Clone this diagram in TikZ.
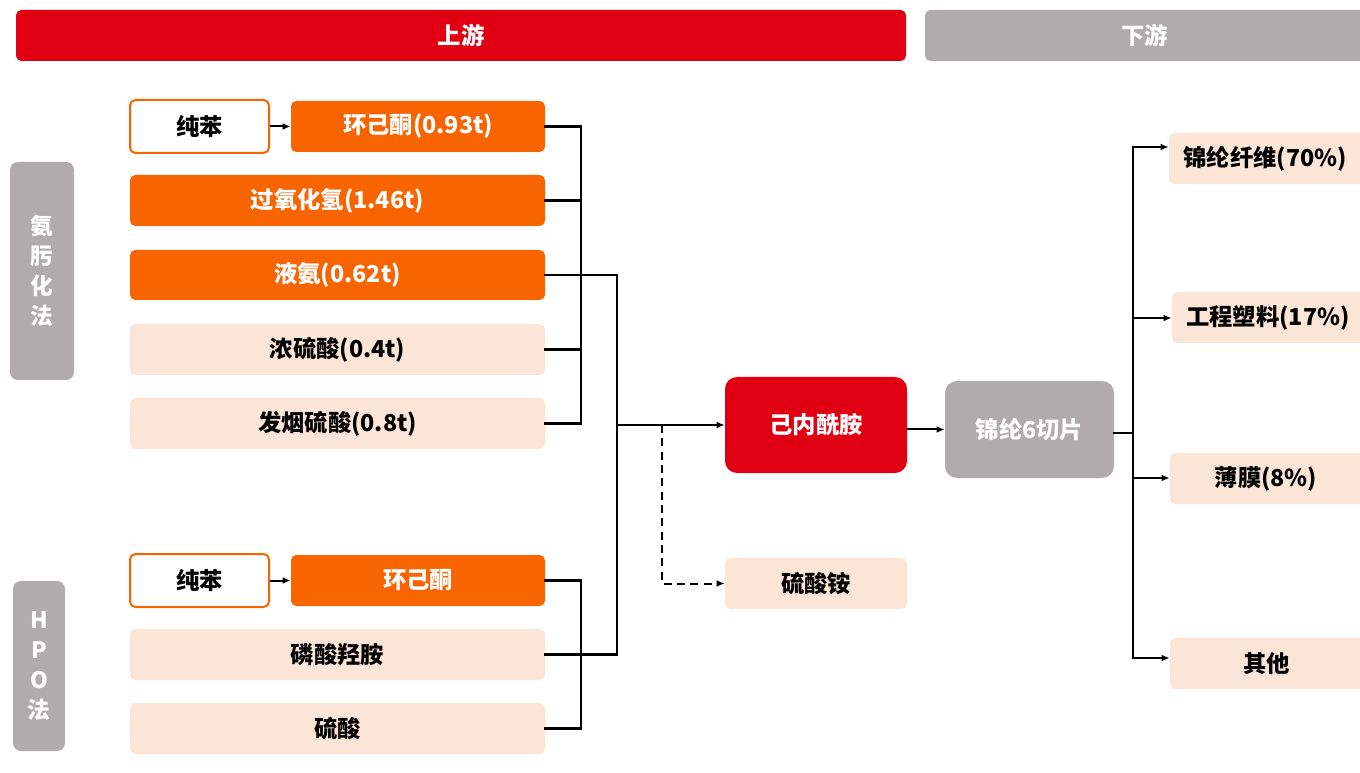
\documentclass[tikz,border=0pt]{standalone}
\usepackage{fontspec}
\setmainfont{Noto Sans CJK SC}
\usetikzlibrary{arrows.meta}
\definecolor{cred}{HTML}{E10012}
\definecolor{corange}{HTML}{F76400}
\definecolor{cpeach}{HTML}{FBE5D6}
\definecolor{cgray}{HTML}{AFACAB}
\newcommand\mybox[7]{\node[#6, minimum width={(#4-#2)*0.75pt}, minimum height={(#5-#3)*0.75pt}] (#1) at ({(#2+#4)/2},{(#3+#5)/2}) {#7};}
\begin{document}
\begin{tikzpicture}[x=0.75pt,y=-0.75pt,
  base/.style={rectangle, inner sep=0pt, font=\fontsize{17.5pt}{21pt}\selectfont\bfseries, rounded corners=4pt},
  redbar/.style={base, fill=cred, text=white},
  graybar/.style={base, fill=cgray, text=white},
  orbox/.style={base, fill=corange, text=white},
  pebox/.style={base, fill=cpeach, text=black},
  whbox/.style={base, fill=white, draw=corange, line width=1.5pt, text=black},
  bigred/.style={base, fill=cred, text=white, rounded corners=9pt},
  biggray/.style={base, fill=cgray, text=white, rounded corners=9pt},
  sidelab/.style={base, fill=cgray, text=white, rounded corners=6pt, align=center, font=\fontsize{17pt}{22.5pt}\selectfont\bfseries},
  brk/.style={line width=2pt, line cap=rect},
  arr/.style={line width=1.5pt, -{Latex[length=6pt,width=5pt]}},
  darr/.style={line width=1.5pt, dash pattern=on 6pt off 4pt, -{Latex[length=6pt,width=5pt]}}
]
\useasboundingbox (0,0) rectangle (1360,773);
\clip (0,0) rectangle (1360,773);
% header bars
\mybox{up}{16}{10}{906}{61}{redbar}{上游}
\mybox{down}{925}{10}{1370}{61}{graybar}{\hspace*{-4pt}下游}
% side labels
\mybox{amox}{10}{162}{74}{380}{sidelab}{氨\\肟\\化\\法}
\mybox{hpo}{13}{581}{65}{751}{sidelab}{H\\P\\O\\法}
% upper group
\mybox{bz1}{130}{100}{269}{153}{whbox}{纯苯}
\mybox{hx1}{291}{101}{545}{152}{orbox}{环己酮(0.93t)}
\mybox{h2o2}{130}{175}{545}{226}{orbox}{过氧化氢(1.46t)}
\mybox{nh3}{130}{250}{545}{300}{orbox}{液氨(0.62t)}
\mybox{hs}{130}{324}{545}{375}{pebox}{浓硫酸(0.4t)}
\mybox{fs}{130}{398}{545}{449}{pebox}{发烟硫酸(0.8t)}
% lower group
\mybox{bz2}{130}{554}{269}{607}{whbox}{纯苯}
\mybox{hx2}{291}{555}{545}{606}{orbox}{环己酮}
\mybox{hpa}{130}{629}{545}{680}{pebox}{磷酸羟胺}
\mybox{sa}{130}{703}{545}{754}{pebox}{硫酸}
% middle
\mybox{cpl}{725}{377}{907}{473}{bigred}{己内酰胺}
\mybox{as}{725}{558}{907}{609}{pebox}{硫酸铵}
\mybox{pa}{945}{381}{1114}{478}{biggray}{锦纶6切片}
% right
\mybox{fib}{1169}{133}{1380}{184}{pebox}{\hspace*{-14pt}锦纶纤维(70\%)}
\mybox{eng}{1172}{292}{1380}{343}{pebox}{\hspace*{-12pt}工程塑料(17\%)}
\mybox{film}{1170}{453}{1380}{504}{pebox}{\hspace*{-13.5pt}薄膜(8\%)}
\mybox{oth}{1170}{638}{1380}{689}{pebox}{\hspace*{-13pt}其他}
% coordinates
\coordinate (x1) at (581,0);
\coordinate (x2) at (617,0);
\coordinate (xd) at (662,0);
\coordinate (x3) at (1133,0);
% arrows benzene -> cyclohexanone
\draw[arr] (bz1.east) -- (hx1.west);
\draw[arr] (bz2.east) -- (hx2.west);
% bracket 1
\draw[brk] (hx1.east) -- (hx1.east -| x1);
\draw[brk] (h2o2.east) -- (h2o2.east -| x1);
\draw[brk] (nh3.east) -- (nh3.east -| x2);
\draw[brk] (hs.east) -- (hs.east -| x1);
\draw[brk] (fs.east) -- (fs.east -| x1);
\draw[brk] (hx1.east -| x1) -- (fs.east -| x1);
% bracket 2
\draw[brk] (hx2.east) -- (hx2.east -| x1);
\draw[brk] (sa.east) -- (sa.east -| x1);
\draw[brk] (hx2.east -| x1) -- (sa.east -| x1);
\draw[brk] (hpa.east) -- (hpa.east -| x2);
% main vertical
\draw[brk] (nh3.east -| x2) -- (hpa.east -| x2);
% to caprolactam
\draw[arr] (cpl.west -| x2) -- (cpl.west);
\draw[darr] (cpl.west -| xd) |- (as.west);
% to PA6
\draw[arr] (cpl.east |- pa.west) -- (pa.west);
% right distribution
\coordinate (yf) at (0,147);
\coordinate (ye) at (0,318);
\coordinate (ym) at (0,478);
\coordinate (yo) at (0,658);
\draw[brk] (pa.east |- 0,433) -- (x3 |- 0,433);
\draw[brk] (x3 |- yf) -- (x3 |- yo);
\draw[arr] (x3 |- yf) -- (fib.west |- yf);
\draw[arr] (x3 |- ye) -- (eng.west |- ye);
\draw[arr] (x3 |- ym) -- (film.west |- ym);
\draw[arr] (x3 |- yo) -- (oth.west |- yo);
\end{tikzpicture}
\end{document}
